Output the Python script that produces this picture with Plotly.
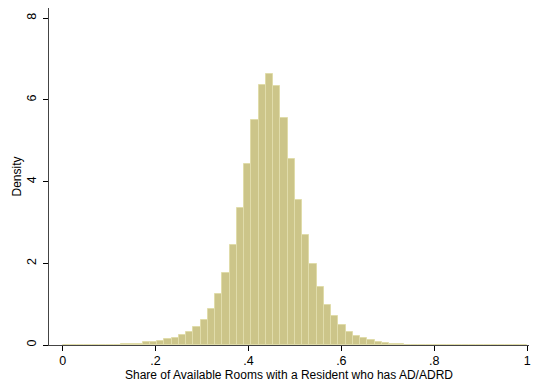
import plotly.graph_objects as go

# Histogram: 64 equal-width bins on [0, 1], density scale
bin_width = 1 / 64
bin_left_edges = [k * bin_width for k in range(64)]
density = [
    0.010, 0.005, 0.005, 0.005, 0.005, 0.005, 0.005, 0.005,   # 0.000 - 0.125
    0.020, 0.025, 0.030, 0.066, 0.070, 0.100, 0.150, 0.180,   # 0.125 - 0.250
    0.240, 0.320, 0.440, 0.610, 0.880, 1.250, 1.760, 2.440,   # 0.250 - 0.375
    3.350, 4.440, 5.500, 6.360, 6.640, 6.330, 5.550, 4.560,   # 0.375 - 0.500
    3.560, 2.690, 1.980, 1.410, 0.990, 0.710, 0.490, 0.320,   # 0.500 - 0.625
    0.220, 0.170, 0.120, 0.070, 0.040, 0.025, 0.015, 0.005,   # 0.625 - 0.750
    0.005, 0.005, 0.005, 0.005, 0.005, 0.005, 0.005, 0.005,   # 0.750 - 0.875
    0.005, 0.005, 0.005, 0.005, 0.005, 0.005, 0.005, 0.005,   # 0.875 - 1.000
]

x_tick_vals = [0, 0.2, 0.4, 0.6, 0.8, 1]
x_tick_text = ["0", ".2", ".4", ".6", ".8", "1"]
y_tick_vals = [0, 2, 4, 6, 8]
y_tick_text = ["0", "2", "4", "6", "8"]

x_title = "Share of Available Rooms with a Resident who has AD/ADRD"
y_title = "Density"

font_family = "Liberation Sans, Arial, Helvetica, sans-serif"

fig = go.Figure()
fig.add_trace(go.Bar(
    x=bin_left_edges,
    y=density,
    width=bin_width,
    offset=0,
    marker=dict(color="rgb(204,197,137)",
                line=dict(color="rgb(224,220,170)", width=1)),
    hoverinfo="x+y",
))

fig.update_layout(
    width=535, height=383,
    margin=dict(l=49, r=6, t=8, b=38, autoexpand=False),
    paper_bgcolor="white",
    plot_bgcolor="white",
    bargap=0,
    showlegend=False,
    font=dict(family=font_family, size=12, color="black"),
    xaxis=dict(
        range=[-0.0295, 1.004],
        tickvals=x_tick_vals, ticktext=x_tick_text,
        ticks="outside", ticklen=5, tickcolor="black", tickwidth=1,
        showline=True, linecolor="#444", linewidth=1,
        showgrid=False, zeroline=False,
        tickfont=dict(size=12.5),
        ticklabelstandoff=-1,
        automargin=False,
        title=dict(text=x_title, font=dict(size=12), standoff=0),
    ),
    yaxis=dict(
        range=[0, 8.25],
        tickvals=y_tick_vals, ticktext=y_tick_text,
        tickangle=-90,
        ticks="outside", ticklen=5, tickcolor="black", tickwidth=1,
        showline=True, linecolor="#444", linewidth=1,
        showgrid=False, zeroline=False,
        tickfont=dict(size=12.5),
        ticklabelstandoff=2,
        automargin=False,
        title=dict(text=y_title, font=dict(size=12), standoff=0),
    ),
)

fig.write_html(
    "out.html",
    config={"displayModeBar": False},
    post_script="document.body.style.margin='0';document.body.style.overflow='hidden';",
)
